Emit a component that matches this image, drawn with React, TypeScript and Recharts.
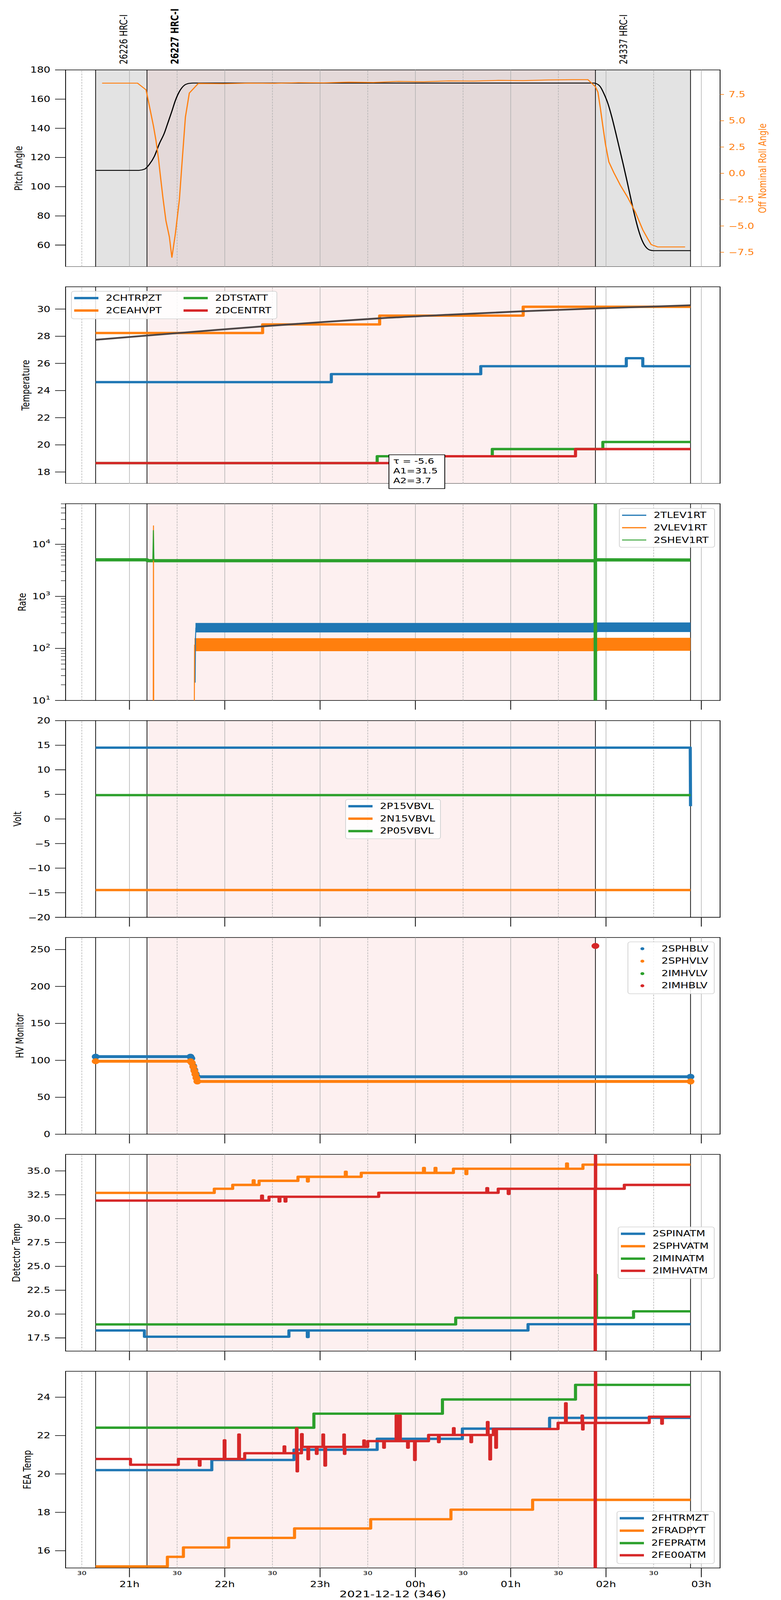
import React from "react";
import { LineChart, Line, XAxis, YAxis, ReferenceArea, ReferenceLine } from "recharts";

const FONT = "DejaVu Sans, sans-serif";
const BLUE = "#1f77b4";
const ORANGE = "#ff7f0e";
const GREEN = "#2ca02c";
const RED = "#d62728";

// time axis: hours of 2021-12-12, values past 24 run into the next day
const timeDomain = [20.33, 27.197];
const hourTicks = [21, 22, 23, 24, 25, 26, 27];
const hourTickLabels = ["21h", "22h", "23h", "00h", "01h", "02h", "03h"];
const halfHourTicks = [20.5, 21.5, 22.5, 23.5, 24.5, 25.5, 26.5];
const halfHourLabel = "30";
const dateLabel = "2021-12-12 (346)";

// observations
const obsidNames = ["26226 HRC-I", "26227 HRC-I", "24337 HRC-I"];
const obsidStarts = [20.645, 21.184, 25.889];
const obsidStops = [21.184, 25.889, 26.887];
const currentObsid = "26227 HRC-I";

// panel 1: pitch / roll
const pitchTicks = [60, 80, 100, 120, 140, 160, 180];
const rollTicks = [-7.5, -5, -2.5, 0, 2.5, 5, 7.5];
const rollTickLabels = ["\u22127.5", "\u22125.0", "\u22122.5", "0.0", "2.5", "5.0", "7.5"];
const pitchAngle = [
  [20.645, 111.2], [21.1, 111.2], [21.158, 112.0], [21.21, 115.4], [21.262, 120.9], [21.314, 129.5],
  [21.367, 136.9], [21.393, 141.8], [21.445, 151.7], [21.482, 159.1], [21.524, 165.2], [21.576, 169.5],
  [21.628, 170.8], [21.67, 171.0], [25.87, 171.0], [25.9, 170.6], [25.94, 168.5], [25.98, 163.5],
  [26.02, 157.0], [26.06, 148.0], [26.1, 137.5], [26.14, 126.5], [26.18, 115.5], [26.22, 104.0],
  [26.26, 92.0], [26.3, 80.5], [26.34, 70.5], [26.38, 63.0], [26.42, 58.5], [26.46, 56.6], [26.5, 56.2],
  [26.887, 56.2],
];
const rollAngle = [
  [20.713, 8.57], [21.085, 8.57], [21.174, 7.94], [21.21, 6.36], [21.252, 4.49], [21.278, 3.13],
  [21.304, 1.43], [21.325, -0.27], [21.351, -2.31], [21.383, -4.52], [21.419, -6.05], [21.445, -8.01],
  [21.482, -5.71], [21.524, -2.48], [21.555, 1.43], [21.587, 5.34], [21.628, 7.63], [21.722, 8.54],
  [21.99, 8.52], [22.26, 8.57], [22.52, 8.55], [22.78, 8.62], [23.04, 8.6], [23.3, 8.67], [23.56, 8.64],
  [23.82, 8.74], [24.08, 8.7], [24.35, 8.79], [24.61, 8.77], [24.87, 8.84], [25.13, 8.81], [25.39, 8.88],
  [25.65, 8.91], [25.81, 8.91], [25.889, 8.23], [25.915, 7.72], [25.941, 6.19], [25.967, 4.49],
  [25.994, 2.79], [26.03, 1.09], [26.082, 0.07], [26.15, -1.12], [26.229, -2.31], [26.307, -3.67],
  [26.386, -5.37], [26.438, -6.22], [26.474, -6.77], [26.542, -6.99], [26.83, -6.99],
];

// panel 2: temperatures
const tempTicks = [18, 20, 22, 24, 26, 28, 30];
const chtrpzt = [[20.645, 24.62], [23.118, 25.21], [24.686, 25.79], [26.213, 26.38], [26.386, 25.79], [26.887, 25.79]];
const ceahvpt = [[20.645, 28.24], [22.397, 28.87], [23.625, 29.52], [25.131, 30.17], [26.887, 30.17]];
const dtstatt = [[20.645, 18.66], [23.599, 19.16], [24.807, 19.69], [25.967, 20.21], [26.887, 20.21]];
const dcentrt = [[20.645, 18.66], [23.82, 19.16], [25.68, 19.69], [26.887, 19.69]];
const fitCurve = [
  [20.645, 27.74], [21.184, 28.05], [21.733, 28.36], [22.397, 28.73], [23.04, 29.05], [23.625, 29.32],
  [24.347, 29.58], [25.131, 29.84], [25.915, 30.05], [26.887, 30.28],
];
const fitLabels = ["\u03c4 = -5.6", "A1=31.5", "A2=3.7"];

// panel 3: rates (log)
const rateMajorTicks = [10, 100, 1000, 10000];
const rateMajorExponents = ["1", "2", "3", "4"];
const rateMinorTicks = [
  20, 30, 40, 50, 60, 70, 80, 90, 200, 300, 400, 500, 600, 700, 800, 900,
  2000, 3000, 4000, 5000, 6000, 7000, 8000, 9000, 20000, 30000, 40000, 50000, 60000,
];
const tlevBand = [[21.693, 250], [25.885, 250], [25.892, 255], [26.887, 255]];
const vlevBand = [[21.683, 118], [25.885, 118], [25.892, 120], [26.887, 120]];
const shevBand = [[20.645, 5040], [21.184, 5040], [21.19, 4850], [25.885, 4850], [25.892, 5040], [26.887, 5000]];
const tlevTrace = [[21.689, 22], [21.693, 160], [21.697, 250], [21.7, null], [25.886, 250], [25.888, 1e6], [25.89, 250]];
const vlevTrace = [[21.249, 1], [21.252, 22700], [21.255, 1], [21.26, null], [21.679, 1], [21.683, 118]];
const shevTrace = [[21.245, 4850], [21.251, 18500], [21.257, 4850]];
const shevDropout = [[25.8885, 1], [25.8885, 1e6]];

// panel 4: voltages
const voltTicks = [-20, -15, -10, -5, 0, 5, 10, 15, 20];
const voltTickLabels = ["\u221220", "\u221215", "\u221210", "\u22125", "0", "5", "10", "15", "20"];
const p15vbvl = [[20.645, 14.5], [26.884, 14.5], [26.887, 2.6]];
const n15vbvl = [[20.645, -14.45], [26.887, -14.45]];
const p05vbvl = [[20.645, 4.85], [26.887, 4.85]];

// panel 5: HV monitor
const hvTicks = [0, 50, 100, 150, 200, 250];
const sphblv = [[20.645, 105], [21.64, 105], [21.65, 102.7], [21.67, 92.2], [21.681, 87], [21.696, 81.6], [21.707, 77.8], [26.887, 77.8]];
const sphvlv = [[20.645, 98.8], [21.64, 98.8], [21.655, 96.6], [21.67, 91.2], [21.681, 85.8], [21.691, 81.2], [21.702, 76.2], [21.712, 71.4], [26.887, 71.4]];
const imhvlv = [];
const imhblv = [[25.889, 254.8]];

// panel 6: detector temperatures
const detTicks = [17.5, 20, 22.5, 25, 27.5, 30, 32.5, 35];
const detTickLabels = ["17.5", "20.0", "22.5", "25.0", "27.5", "30.0", "32.5", "35.0"];
const spinatm = [[20.645, 18.28], [21.157, 17.63], [22.673, 18.28], [22.866, 17.6], [22.876, 18.28], [25.182, 18.94], [26.887, 18.94]];
const sphvatm = [
  [20.645, 32.7], [21.89, 33.13], [22.083, 33.53], [22.298, 34.0], [22.308, 33.53], [22.36, 33.96],
  [22.768, 34.38], [22.867, 33.9], [22.877, 34.38], [23.265, 34.9], [23.275, 34.38], [23.432, 34.79],
  [24.085, 35.3], [24.095, 34.79], [24.206, 35.3], [24.216, 34.79], [24.399, 35.22], [24.53, 34.67],
  [24.54, 35.22], [25.586, 35.76], [25.596, 35.22], [25.758, 35.65], [26.887, 35.65],
];
const iminatm = [[20.645, 18.92], [24.423, 19.61], [25.895, 24.1], [25.9, 19.61], [26.289, 20.29], [26.887, 20.29]];
const imhvatm = [
  [20.645, 31.89], [22.386, 32.4], [22.396, 31.89], [22.464, 32.29], [22.569, 31.8], [22.579, 32.29],
  [22.632, 31.8], [22.642, 32.29], [23.615, 32.71], [24.749, 33.19], [24.759, 32.71], [24.869, 33.13],
  [24.974, 32.59], [24.984, 33.13], [25.886, 5], [25.889, 60], [25.892, 33.13], [26.192, 33.53], [26.887, 33.53],
];

// panel 7: FEA temperatures
const feaTicks = [16, 18, 20, 22, 24];
const fhtrmzt = [[20.645, 20.2], [21.864, 20.73], [22.726, 21.26], [23.599, 21.83], [24.493, 22.36], [25.408, 22.92], [26.887, 22.92]];
const fradpyt = [[20.645, 15.18], [21.398, 15.68], [21.566, 16.17], [22.041, 16.67], [22.732, 17.16], [23.531, 17.64], [24.373, 18.14], [25.23, 18.65], [26.887, 18.65]];
const fepratm = [[20.645, 22.41], [22.935, 23.14], [24.284, 23.88], [25.68, 24.64], [26.887, 24.64]];
const fe00atm = [
  [20.645, 20.78], [21.011, 20.48], [21.513, 20.78], [21.733, 20.44], [21.741, 20.78], [21.994, 21.75],
  [22.002, 20.78], [22.146, 22.05], [22.154, 20.78], [22.209, 21.08], [22.622, 21.43], [22.63, 21.08],
  [22.752, 22.37], [22.758, 20.14], [22.764, 21.08], [22.805, 22.07], [22.813, 21.41], [22.872, 20.77],
  [22.88, 21.41], [22.961, 21.05], [22.969, 21.41], [23.029, 22.05], [23.037, 21.41], [23.05, 20.44],
  [23.058, 21.41], [23.249, 22.05], [23.255, 21.05], [23.261, 21.41], [23.458, 21.74], [23.466, 21.41],
  [23.5, 21.71], [23.667, 21.37], [23.675, 21.71], [23.798, 23.04], [23.806, 21.71], [23.834, 23.04],
  [23.842, 21.71], [23.918, 21.37], [23.926, 21.71], [23.991, 20.73], [23.999, 21.71], [24.138, 22.03],
  [24.242, 21.66], [24.25, 22.03], [24.399, 22.38], [24.407, 22.03], [24.582, 21.66], [24.59, 22.03],
  [24.755, 22.7], [24.763, 22.03], [24.781, 20.76], [24.789, 22.03], [24.818, 22.34], [24.843, 21.37],
  [24.851, 22.34], [25.497, 22.66], [25.575, 23.68], [25.583, 22.66], [25.748, 23.04], [25.754, 22.32],
  [25.76, 22.66], [25.886, 10], [25.889, 30], [25.892, 22.66], [26.454, 22.98], [26.584, 22.62],
  [26.592, 22.98], [26.887, 22.98],
];

// layout (figure drawn at 2000x5400, fitted into the 4096 px tall window)
const FIG_H = 5400;
const VIEW_H = 4096;
const PLOT_TOP0 = 236;
const PANEL_STEP = 732;
const PLOT_H = 664;

const toPts = (arr) => arr.map(([t, v]) => ({ t, v }));
const boundaries = [...obsidStarts, obsidStops[obsidStops.length - 1]];
const timeTicks = [...halfHourTicks, ...hourTicks].sort((a, b) => a - b);
const tickStyle = { fontSize: 27, fill: "#000", fontFamily: FONT };

function yTitle(text, x, color = "#000") {
  return (props) => {
    const vb = props.viewBox || { y: 0, height: PLOT_H };
    const cy = vb.y + vb.height / 2;
    return (
      <text x={x} y={cy} transform={`rotate(-90 ${x} ${cy})`} textAnchor="middle" dominantBaseline="central"
        fontSize={27} fontFamily={FONT} fill={color}>
        {text}
      </text>
    );
  };
}

function obsidLabel(name) {
  return (props) => {
    const vb = props.viewBox;
    const x = vb.x + 81;
    const y = vb.y - 19;
    return (
      <text x={x} y={y} transform={`rotate(-90 ${x} ${y})`} fontSize={27} fontFamily={FONT}
        fontWeight={name === currentObsid ? "bold" : "normal"} fill="#000">
        {name}
      </text>
    );
  };
}

function timeTick(withLabels) {
  return (p) => {
    const v = p.payload.value;
    const hi = hourTicks.indexOf(v);
    if (hi >= 0) {
      return (
        <g>
          <line x1={p.x} x2={p.x} y1={p.y} y2={p.y + 31} stroke="#000" strokeWidth={2} />
          {withLabels && (
            <text x={p.x} y={p.y + 64} textAnchor="middle" fontSize={27} fontFamily={FONT} fill="#000">
              {hourTickLabels[hi]}
            </text>
          )}
        </g>
      );
    }
    if (!withLabels) return <g />;
    return (
      <text x={p.x} y={p.y + 23} textAnchor="middle" fontSize={19} fontFamily={FONT} fill="#000">
        {halfHourLabel}
      </text>
    );
  };
}

function rateTick(p) {
  const v = p.payload.value;
  const mi = rateMajorTicks.indexOf(v);
  if (mi < 0) return <line x1={p.x - 12} x2={p.x} y1={p.y} y2={p.y} stroke="#000" strokeWidth={1.5} />;
  return (
    <g>
      <line x1={p.x - 27} x2={p.x} y1={p.y} y2={p.y} stroke="#000" strokeWidth={2} />
      <text x={p.x - 39} y={p.y + 10} textAnchor="end" fontSize={27} fontFamily={FONT} fill="#000">
        10<tspan dy={-13} fontSize={19}>{rateMajorExponents[mi]}</tspan>
      </text>
    </g>
  );
}

function timeAxis(mode) {
  if (mode === "none") {
    return (
      <XAxis dataKey="t" type="number" domain={timeDomain} allowDataOverflow ticks={timeTicks}
        height={0} tick={false} axisLine={false} tickLine={false} />
    );
  }
  const labels = mode === "labels";
  return (
    <XAxis dataKey="t" type="number" domain={timeDomain} allowDataOverflow ticks={timeTicks} interval={0}
      height={labels ? 105 : 40} axisLine={false} tickLine={false} tickSize={0} tickMargin={0}
      tick={timeTick(labels)}
      label={labels ? (props) => {
        const vb = props.viewBox;
        return (
          <text x={vb.x + vb.width / 2} y={vb.y + 99} textAnchor="middle" fontSize={31} fontFamily={FONT} fill="#000">
            {dateLabel}
          </text>
        );
      } : undefined}
    />
  );
}

function valueAxis(ticks, domain, title, titleX, labels, extra = {}) {
  return (
    <YAxis type="number" domain={domain} allowDataOverflow ticks={ticks} interval={0} width={100}
      tickSize={27} tickMargin={12} axisLine={false} tickLine={{ stroke: "#000", strokeWidth: 2 }}
      tick={tickStyle} tickFormatter={labels ? (v) => labels[ticks.indexOf(v)] : undefined}
      label={yTitle(title, titleX)} {...extra} />
  );
}

function backdrop(pitch, yAxisId = 0) {
  const els = [];
  obsidNames.forEach((name, i) => {
    if (!pitch && name !== currentObsid) return;
    els.push(
      <ReferenceArea key={`sh${i}`} yAxisId={yAxisId} x1={obsidStarts[i]} x2={obsidStops[i]} ifOverflow="visible"
        fill={pitch ? (name === currentObsid ? "#e4d9d9" : "#e3e3e3") : "#fdf0f0"} fillOpacity={1} stroke="none" />
    );
  });
  hourTicks.forEach((h) =>
    els.push(<ReferenceLine key={`h${h}`} yAxisId={yAxisId} x={h} stroke="#b0b0b0" strokeWidth={1.5} />)
  );
  halfHourTicks.forEach((h) =>
    els.push(<ReferenceLine key={`hh${h}`} yAxisId={yAxisId} x={h} stroke="#b0b0b0" strokeWidth={1.5} strokeDasharray="6 3.5" />)
  );
  boundaries.forEach((b, i) =>
    els.push(
      <ReferenceLine key={`b${i}`} yAxisId={yAxisId} x={b} stroke="#000" strokeWidth={1.8}
        label={pitch && i < obsidNames.length ? obsidLabel(obsidNames[i]) : undefined} />
    )
  );
  return els;
}

function frame(yAxisId = 0) {
  return (
    <ReferenceArea yAxisId={yAxisId} x1={timeDomain[0]} x2={timeDomain[1]} ifOverflow="visible"
      fill="none" stroke="#000" strokeWidth={2} />
  );
}

function series(data, color, width, extra = {}) {
  return (
    <Line data={toPts(data)} dataKey="v" stroke={color} strokeWidth={width} dot={false} activeDot={false}
      type="stepAfter" strokeLinejoin="round" isAnimationActive={false} {...extra} />
  );
}

function Panel({ index, marginTop = 30, xHeight = 0, rightAxis = false, children }) {
  const top = PLOT_TOP0 + index * PANEL_STEP;
  const height = marginTop + PLOT_H + xHeight;
  return (
    <div style={{ position: "absolute", left: 0, top: top - marginTop, width: 2000, height }}>
      <LineChart width={2000} height={height} margin={{ top: marginTop, right: rightAxis ? 56 : 156, bottom: 0, left: 68 }}>
        {children}
      </LineChart>
    </div>
  );
}

function LegendBox({ left, top, width, height, items, rows = items.length, colWidth = 280 }) {
  return (
    <div style={{
      position: "absolute", left, top, width, height, boxSizing: "border-box",
      border: "2px solid #d4d4d4", borderRadius: 7, background: "rgba(255,255,255,0.85)",
    }}>
      {items.map((it, i) => {
        const col = Math.floor(i / rows);
        const row = i % rows;
        const cy = 22 + row * 41.8;
        const x0 = col * colWidth;
        return (
          <React.Fragment key={it.name}>
            {it.dot ? (
              <div style={{ position: "absolute", left: x0 + 31, top: cy - 5, width: 10, height: 10, borderRadius: 5, background: it.color }} />
            ) : (
              <div style={{ position: "absolute", left: x0 + 6, top: cy - it.thick / 2, width: 62, height: it.thick, background: it.color }} />
            )}
            <div style={{ position: "absolute", left: x0 + (it.dot ? 85 : 87), top: cy - 16, fontSize: 27, lineHeight: "32px", fontFamily: FONT, color: "#000", whiteSpace: "nowrap" }}>
              {it.name}
            </div>
          </React.Fragment>
        );
      })}
    </div>
  );
}

export default function App() {
  return (
    <div style={{ margin: "-8px 0 0 -8px", width: 2000, height: VIEW_H, overflow: "hidden", background: "#fff" }}>
      <div style={{
        position: "relative", width: 2000, height: FIG_H, background: "#fff", fontFamily: FONT,
        transform: `scale(1, ${VIEW_H / FIG_H})`, transformOrigin: "0 0",
      }}>
        {/* Pitch / roll */}
        <Panel index={0} marginTop={236} rightAxis>
          {timeAxis("none")}
          {valueAxis(pitchTicks, [45.2, 180], "Pitch Angle", 48, null, { yAxisId: "left" })}
          <YAxis yAxisId="right" orientation="right" type="number" domain={[-8.87, 9.83]} allowDataOverflow
            ticks={rollTicks} interval={0} width={100} tickSize={10} tickMargin={12} axisLine={false}
            tickLine={{ stroke: ORANGE, strokeWidth: 2 }} tick={{ ...tickStyle, fill: ORANGE }}
            tickFormatter={(v) => rollTickLabels[rollTicks.indexOf(v)]}
            label={yTitle("Off Nominal Roll Angle", 1953, ORANGE)} />
          {backdrop(true, "left")}
          <Line yAxisId="left" data={toPts(pitchAngle)} dataKey="v" stroke="#000" strokeWidth={3} dot={false}
            activeDot={false} type="monotone" isAnimationActive={false} />
          <Line yAxisId="right" data={toPts(rollAngle)} dataKey="v" stroke={ORANGE} strokeWidth={3} dot={false}
            activeDot={false} type="linear" isAnimationActive={false} />
          {frame("left")}
        </Panel>

        {/* Temperature */}
        <Panel index={1}>
          {timeAxis("none")}
          {valueAxis(tempTicks, [17.15, 31.64], "Temperature", 66, null)}
          {backdrop(false)}
          {series(chtrpzt, BLUE, 8)}
          {series(ceahvpt, ORANGE, 8)}
          {series(dtstatt, GREEN, 8)}
          {series(dcentrt, RED, 8)}
          <Line data={toPts(fitCurve)} dataKey="v" stroke="#4d4646" strokeWidth={6} dot={false} activeDot={false}
            type="monotone" isAnimationActive={false} />
          {frame()}
        </Panel>

        {/* Rate */}
        <Panel index={2} xHeight={40}>
          {timeAxis("ticks")}
          <YAxis type="number" scale="log" domain={[10, 60300]} allowDataOverflow
            ticks={[...rateMinorTicks, ...rateMajorTicks].sort((a, b) => a - b)} interval={0} width={100}
            tickSize={0} tickMargin={0} axisLine={false} tickLine={false} tick={rateTick}
            label={yTitle("Rate", 57)} />
          {backdrop(false)}
          {series(tlevBand, BLUE, 32, { type: "linear", strokeLinejoin: "miter" })}
          {series(vlevBand, ORANGE, 44, { type: "linear", strokeLinejoin: "miter" })}
          {series(shevBand, GREEN, 11, { type: "linear" })}
          {series(tlevTrace, BLUE, 2.5, { type: "linear" })}
          {series(vlevTrace, ORANGE, 2.5, { type: "linear" })}
          {series(shevTrace, GREEN, 2.5, { type: "linear" })}
          {series(shevDropout, GREEN, 9, { type: "linear" })}
          {frame()}
        </Panel>

        {/* Volt */}
        <Panel index={3} xHeight={40}>
          {timeAxis("ticks")}
          {valueAxis(voltTicks, [-20, 20], "Volt", 45, voltTickLabels)}
          {backdrop(false)}
          {series(p15vbvl, BLUE, 8, { type: "linear" })}
          {series(n15vbvl, ORANGE, 8, { type: "linear" })}
          {series(p05vbvl, GREEN, 8, { type: "linear" })}
          {frame()}
        </Panel>

        {/* HV monitor */}
        <Panel index={4} xHeight={40}>
          {timeAxis("ticks")}
          {valueAxis(hvTicks, [0, 266.3], "HV Monitor", 51, null)}
          {backdrop(false)}
          {series(sphblv, BLUE, 10, { type: "linear", strokeLinecap: "round", dot: { r: 5, fill: BLUE, stroke: BLUE } })}
          {series(sphvlv, ORANGE, 10, { type: "linear", strokeLinecap: "round", dot: { r: 5, fill: ORANGE, stroke: ORANGE } })}
          {imhvlv.length > 0 && series(imhvlv, GREEN, 10, { type: "linear" })}
          {series(imhblv, RED, 10, { type: "linear", dot: { r: 5, fill: RED, stroke: RED } })}
          {frame()}
        </Panel>

        {/* Detector temp */}
        <Panel index={5} xHeight={40}>
          {timeAxis("ticks")}
          {valueAxis(detTicks, [16.12, 36.73], "Detector Temp", 42, detTickLabels)}
          {backdrop(false)}
          {series(spinatm, BLUE, 8)}
          {series(sphvatm, ORANGE, 8)}
          {series(iminatm, GREEN, 8)}
          {series(imhvatm, RED, 8)}
          {frame()}
        </Panel>

        {/* FEA temp */}
        <Panel index={6} xHeight={105}>
          {timeAxis("labels")}
          {valueAxis(feaTicks, [15.1, 25.35], "FEA Temp", 70, null)}
          {backdrop(false)}
          {series(fhtrmzt, BLUE, 8)}
          {series(fradpyt, ORANGE, 8)}
          {series(fepratm, GREEN, 8)}
          {series(fe00atm, RED, 8)}
          {frame()}
        </Panel>

        <LegendBox left={182} top={982} width={528} height={95} rows={2}
          items={[
            { name: "2CHTRPZT", color: BLUE, thick: 8 },
            { name: "2CEAHVPT", color: ORANGE, thick: 8 },
            { name: "2DTSTATT", color: GREEN, thick: 8 },
            { name: "2DCENTRT", color: RED, thick: 8 },
          ]} />
        <div style={{
          position: "absolute", left: 995, top: 1534, width: 145, height: 116, boxSizing: "border-box",
          border: "2.7px solid #000", background: "#fff", padding: "4px 0 0 10px",
          fontSize: 26, lineHeight: "33px", fontFamily: FONT, color: "#000",
        }}>
          {fitLabels.map((l) => <div key={l}>{l}</div>)}
        </div>
        <LegendBox left={1585} top={1715} width={246} height={133}
          items={[
            { name: "2TLEV1RT", color: BLUE, thick: 3.5 },
            { name: "2VLEV1RT", color: ORANGE, thick: 3.5 },
            { name: "2SHEV1RT", color: GREEN, thick: 3.5 },
          ]} />
        <LegendBox left={884} top={2697} width={245} height={135}
          items={[
            { name: "2P15VBVL", color: BLUE, thick: 8 },
            { name: "2N15VBVL", color: ORANGE, thick: 8 },
            { name: "2P05VBVL", color: GREEN, thick: 8 },
          ]} />
        <LegendBox left={1607} top={3178} width={223} height={177}
          items={[
            { name: "2SPHBLV", color: BLUE, dot: true },
            { name: "2SPHVLV", color: ORANGE, dot: true },
            { name: "2IMHVLV", color: GREEN, dot: true },
            { name: "2IMHBLV", color: RED, dot: true },
          ]} />
        <LegendBox left={1582} top={4140} width={248} height={176}
          items={[
            { name: "2SPINATM", color: BLUE, thick: 8 },
            { name: "2SPHVATM", color: ORANGE, thick: 8 },
            { name: "2IMINATM", color: GREEN, thick: 8 },
            { name: "2IMHVATM", color: RED, thick: 8 },
          ]} />
        <LegendBox left={1579} top={5100} width={251} height={178}
          items={[
            { name: "2FHTRMZT", color: BLUE, thick: 8 },
            { name: "2FRADPYT", color: ORANGE, thick: 8 },
            { name: "2FEPRATM", color: GREEN, thick: 8 },
            { name: "2FE00ATM", color: RED, thick: 8 },
          ]} />
      </div>
    </div>
  );
}
